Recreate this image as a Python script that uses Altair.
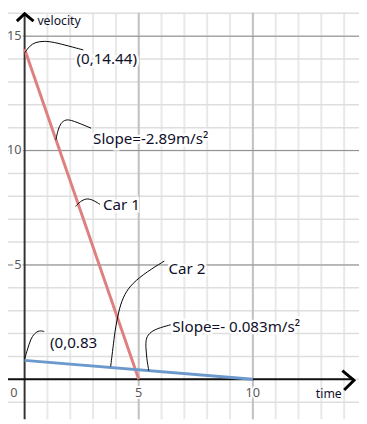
import altair as alt
import pandas as pd

# ---- data ----
car1_t = [0, 5]
car1_v = [14.44, 0]
car2_t = [0, 10]
car2_v = [0.83, 0]

minor_x = list(range(1, 15))
major_x = [5, 10]
minor_y = list(range(-1, 17))
major_y = [5, 10, 15]

y_tick_vals = [15, 10, 5]
y_tick_labels = ["15", "10", "5"]
x_tick_vals = [-0.47, 5, 10]
x_tick_labels = ["0", "5", "10"]

annot_text = ["(0,14.44)", "Slope=-2.89m/s²", "Car 1", "Car 2", "(0,0.83", "Slope=- 0.083m/s²"]
annot_x = [2.27, 3.0, 3.43, 6.30, 1.11, 6.47]
annot_y = [14.02, 10.51, 7.61, 4.83, 1.58, 2.27]

axis_text = ["velocity", "time"]
axis_text_x = [0.56, 12.76]
axis_text_y = [15.68, -0.64]

# hand-drawn leader curves (data units)
lead1_x = [0, 0.21, 0.47, 0.86, 1.28, 1.93, 2.57]
lead1_y = [14.27, 14.57, 14.74, 14.79, 14.74, 14.57, 14.40]
lead2_x = [1.37, 1.46, 1.58, 1.80, 2.10, 2.91]
lead2_y = [10.47, 10.90, 11.20, 11.37, 11.32, 10.98]
lead3_x = [2.23, 2.44, 2.70, 2.96, 3.30]
lead3_y = [7.56, 7.78, 7.91, 7.86, 7.65]
lead4_x = [3.77, 3.90, 3.98, 4.15, 4.37, 4.71, 5.35, 6.12]
lead4_y = [0.56, 1.62, 2.26, 3.12, 3.72, 4.19, 4.70, 5.17]
lead5_x = [0, 0.13, 0.26, 0.43, 0.64, 0.86]
lead5_y = [0.90, 1.32, 1.75, 2.01, 2.14, 2.09]
lead6_x = [5.44, 5.35, 5.31, 5.31, 5.44, 5.78, 6.42]
lead6_y = [0.38, 0.90, 1.41, 1.75, 2.01, 2.22, 2.39]

# arrow heads (chevrons) and axes extents
arrow_r_x = [13.92, 14.43, 14.0]
arrow_r_y = [0.38, -0.04, -0.47]
arrow_t_x = [-0.34, 0.0, 0.39]
arrow_t_y = [15.66, 15.98, 15.66]

X_DOM = [-0.728, 14.65]
Y_DOM = [-1.75, 16.03]

xs = alt.Scale(domain=X_DOM, nice=False, zero=False)
ys = alt.Scale(domain=Y_DOM, nice=False, zero=False)
FONT = "Noto Sans"
TXT = "#10102a"


def X(f="x"):
    return alt.X(f"{f}:Q", scale=xs, axis=None)


def Y(f="y"):
    return alt.Y(f"{f}:Q", scale=ys, axis=None)


layers = []

# grid
layers.append(alt.Chart(pd.DataFrame({"x": minor_x})).mark_rule(color="#e8e8e8", strokeWidth=2).encode(x=X()))
layers.append(alt.Chart(pd.DataFrame({"y": minor_y})).mark_rule(color="#dedede", strokeWidth=1.5).encode(y=Y()))
layers.append(alt.Chart(pd.DataFrame({"x": major_x})).mark_rule(color="#c2c2c2", strokeWidth=2).encode(x=X()))
layers.append(alt.Chart(pd.DataFrame({"y": major_y})).mark_rule(color="#8c8c8c", strokeWidth=1).encode(y=Y()))

# axes lines
layers.append(alt.Chart(pd.DataFrame({"x": [0], "y": [Y_DOM[0]], "y2": [16.0]})).mark_rule(color="#333333", strokeWidth=2).encode(x=X(), y=Y(), y2="y2:Q"))
layers.append(alt.Chart(pd.DataFrame({"y": [0], "x": [X_DOM[0]], "x2": [14.43]})).mark_rule(color="#111111", strokeWidth=2).encode(y=Y(), x=X(), x2="x2:Q"))

# tick labels with white halo
ytl = pd.DataFrame({"x": [-0.13] * 3, "y": y_tick_vals, "t": y_tick_labels})
xtl = pd.DataFrame({"x": x_tick_vals, "y": [-0.62] * 3, "t": x_tick_labels})
for df, al in [(ytl, "right"), (xtl, "center")]:
    layers.append(alt.Chart(df).mark_text(align=al, baseline="middle", font=FONT, fontSize=13, color="white", stroke="white", strokeWidth=4).encode(x=X(), y=Y(), text="t:N"))
    layers.append(alt.Chart(df).mark_text(align=al, baseline="middle", font=FONT, fontSize=13, color="#5a5a5a").encode(x=X(), y=Y(), text="t:N"))

# car lines
layers.append(alt.Chart(pd.DataFrame({"x": car1_t, "y": car1_v})).mark_line(color="#de8080", strokeWidth=3).encode(x=X(), y=Y()))
layers.append(alt.Chart(pd.DataFrame({"x": car2_t, "y": car2_v})).mark_line(color="#6b99cc", strokeWidth=3).encode(x=X(), y=Y()))

# leader curves
leads = [(lead1_x, lead1_y), (lead2_x, lead2_y), (lead3_x, lead3_y),
         (lead4_x, lead4_y), (lead5_x, lead5_y), (lead6_x, lead6_y)]
for lx, ly in leads:
    df = pd.DataFrame({"x": lx, "y": ly, "o": list(range(len(lx)))})
    layers.append(alt.Chart(df).mark_line(color="black", strokeWidth=1, interpolate="basis").encode(x=X(), y=Y(), order="o:Q"))

# annotation text with halo
adf = pd.DataFrame({"x": annot_x, "y": annot_y, "t": annot_text})
layers.append(alt.Chart(adf).mark_text(align="left", baseline="middle", font=FONT, fontSize=15.5, color="white", stroke="white", strokeWidth=5).encode(x=X(), y=Y(), text="t:N"))
layers.append(alt.Chart(adf).mark_text(align="left", baseline="middle", font=FONT, fontSize=15.5, color=TXT).encode(x=X(), y=Y(), text="t:N"))

tdf = pd.DataFrame({"x": axis_text_x, "y": axis_text_y, "t": axis_text})
layers.append(alt.Chart(tdf).mark_text(align="left", baseline="middle", font=FONT, fontSize=12.5, color=TXT).encode(x=X(), y=Y(), text="t:N"))

# arrow chevrons
for ax, ay in [(arrow_r_x, arrow_r_y), (arrow_t_x, arrow_t_y)]:
    df = pd.DataFrame({"x": ax, "y": ay, "o": [0, 1, 2]})
    layers.append(alt.Chart(df).mark_line(color="black", strokeWidth=3, strokeJoin="miter").encode(x=X(), y=Y(), order="o:Q"))

chart = alt.layer(*layers).properties(
    width=359, height=416, padding=0, autosize=alt.AutoSizeParams(type="none"), background="white"
).configure_view(stroke=None)

chart.save("out.html", embed_options={"renderer": "svg", "actions": False})
